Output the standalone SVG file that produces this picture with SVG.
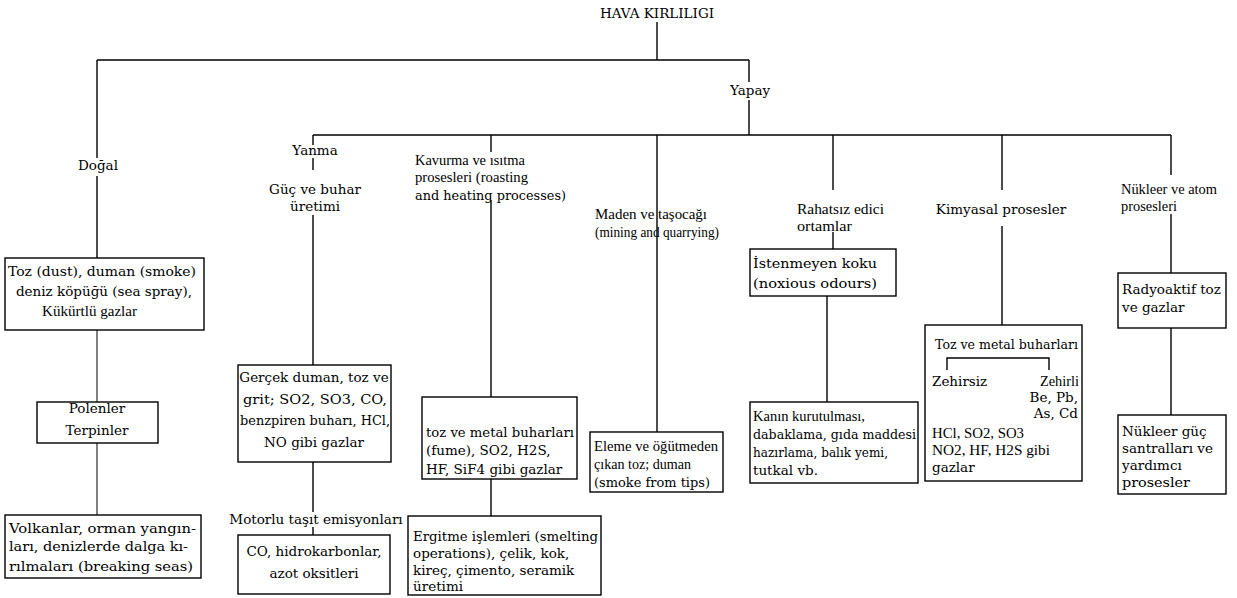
<svg xmlns="http://www.w3.org/2000/svg" width="1237" height="598" viewBox="0 0 1237 598">
<style>
text{font-family:"DejaVu Serif","Liberation Serif",serif;font-size:13.5px;fill:#000}
text.n{font-family:"Liberation Serif","DejaVu Serif",serif;font-size:15.5px}
.c{text-anchor:middle}
.box{fill:#fff;stroke:#000;stroke-width:1.4}
.ln{fill:none;stroke:#000;stroke-width:1.4}
.thin{fill:none;stroke:#000;stroke-width:1}
</style>
<rect width="1237" height="598" fill="#fff"/>
<g id="connectors">
<path class="ln" d="M657 22V60M97 60H749M97 60V158M97 176V258"/>
<path class="thin" d="M97 330V402M97 443V515"/>
<path class="ln" d="M749 60V82M749 100V135M313 135H1171"/>
<path class="ln" d="M313 135V145M313 158V170M313 215V365M313 462V512M313 527V535"/>
<path class="ln" d="M491 135V152M491 200V397M491 479V516"/>
<path class="ln" d="M657 135V432"/>
<path class="ln" d="M833 135V190M833 232V249M827 296V402"/>
<path class="ln" d="M1002 135V190M1002 226V325"/>
<path class="ln" d="M1171 135V175M1171 214V273M1171 328V415"/>
</g>
<g id="root"><text class="c" x="657" y="18">HAVA KIRLILIGI</text></g>
<g id="dogal"><text class="c" x="98" y="170">Doğal</text></g>
<g id="yapay"><text class="c" x="750" y="95">Yapay</text></g>
<g id="dogal-1">
<rect class="box" x="5" y="258" width="199" height="72"/>
<text x="8" y="276" textLength="188" lengthAdjust="spacingAndGlyphs">Toz (dust), duman (smoke)</text>
<text class="c" x="104" y="296">deniz köpüğü (sea spray),</text>
<text class="n" x="42" y="316" textLength="95" lengthAdjust="spacingAndGlyphs">Kükürtlü gazlar</text>
</g>
<g id="dogal-2">
<rect class="box" x="37" y="402" width="121" height="41"/>
<text class="c" x="97" y="413">Polenler</text>
<text class="c" x="97" y="435">Terpinler</text>
</g>
<g id="dogal-3">
<rect class="box" x="5" y="515" width="196" height="63"/>
<text x="9" y="533" textLength="187" lengthAdjust="spacingAndGlyphs">Volkanlar, orman yangın-</text>
<text x="9" y="551" textLength="179" lengthAdjust="spacingAndGlyphs">ları, denizlerde dalga kı-</text>
<text x="9" y="571" textLength="184" lengthAdjust="spacingAndGlyphs">rılmaları (breaking seas)</text>
</g>
<g id="yanma">
<text class="c" x="315" y="155">Yanma</text>
<text class="c" x="315" y="194">Güç ve buhar</text>
<text class="c" x="315" y="211">üretimi</text>
</g>
<g id="yanma-1">
<rect class="box" x="238" y="365" width="153" height="97"/>
<text class="c" x="314" y="382">Gerçek duman, toz ve</text>
<text x="243" y="404" textLength="144" lengthAdjust="spacingAndGlyphs">grit; SO2, SO3, CO,</text>
<text x="240" y="425" textLength="150" lengthAdjust="spacingAndGlyphs">benzpiren buharı, HCl,</text>
<text class="c" x="314" y="447">NO gibi gazlar</text>
</g>
<g id="motorlu"><text class="c" x="316" y="524">Motorlu taşıt emisyonları</text></g>
<g id="motorlu-1">
<rect class="box" x="238" y="535" width="152" height="59"/>
<text class="c" x="314" y="556">CO, hidrokarbonlar,</text>
<text class="c" x="314" y="578">azot oksitleri</text>
</g>
<g id="kavurma">
<text class="n" x="415" y="165" textLength="110" lengthAdjust="spacingAndGlyphs">Kavurma ve ısıtma</text>
<text class="n" x="415" y="182" textLength="113" lengthAdjust="spacingAndGlyphs">prosesleri (roasting</text>
<text x="415" y="200" textLength="151" lengthAdjust="spacingAndGlyphs">and heating processes)</text>
</g>
<g id="kavurma-1">
<rect class="box" x="422" y="397" width="155" height="82"/>
<text x="426" y="437" textLength="148" lengthAdjust="spacingAndGlyphs">toz ve metal buharları</text>
<text x="426" y="455">(fume), SO2, H2S,</text>
<text x="426" y="474">HF, SiF4 gibi gazlar</text>
</g>
<g id="kavurma-2">
<rect class="box" x="408" y="516" width="193" height="79"/>
<text x="413" y="541" textLength="185" lengthAdjust="spacingAndGlyphs">Ergitme işlemleri (smelting</text>
<text x="413" y="558">operations), çelik, kok,</text>
<text x="413" y="575">kireç, çimento, seramik</text>
<text x="413" y="591">üretimi</text>
</g>
<g id="maden">
<text class="n" x="595" y="219" textLength="112" lengthAdjust="spacingAndGlyphs">Maden ve taşocağı</text>
<text class="n" x="595" y="237" textLength="124" lengthAdjust="spacingAndGlyphs">(mining and quarrying)</text>
</g>
<g id="maden-1">
<rect class="box" x="590" y="432" width="133" height="60"/>
<text class="n" x="594" y="451" textLength="124" lengthAdjust="spacingAndGlyphs">Eleme ve öğütmeden</text>
<text class="n" x="594" y="469" textLength="97" lengthAdjust="spacingAndGlyphs">çıkan toz; duman</text>
<text x="594" y="487" textLength="116" lengthAdjust="spacingAndGlyphs">(smoke from tips)</text>
</g>
<g id="rahatsiz">
<text class="n" x="797" y="214" textLength="87" lengthAdjust="spacingAndGlyphs">Rahatsız edici</text>
<text class="n" x="797" y="231" textLength="55" lengthAdjust="spacingAndGlyphs">ortamlar</text>
</g>
<g id="rahatsiz-1">
<rect class="box" x="750" y="249" width="146" height="47"/>
<text x="753" y="268" textLength="124" lengthAdjust="spacingAndGlyphs">İstenmeyen koku</text>
<text x="753" y="288" textLength="124" lengthAdjust="spacingAndGlyphs">(noxious odours)</text>
</g>
<g id="rahatsiz-2">
<rect class="box" x="750" y="402" width="168" height="81"/>
<text class="n" x="753" y="421" textLength="112" lengthAdjust="spacingAndGlyphs">Kanın kurutulması,</text>
<text x="753" y="439" textLength="163" lengthAdjust="spacingAndGlyphs">dabaklama, gıda maddesi</text>
<text x="753" y="457" textLength="135" lengthAdjust="spacingAndGlyphs">hazırlama, balık yemi,</text>
<text x="753" y="475">tutkal vb.</text>
</g>
<g id="kimyasal"><text class="c" x="1001" y="214">Kimyasal prosesler</text></g>
<g id="kimyasal-1">
<rect class="box" x="925" y="325" width="157" height="156"/>
<text x="935" y="349" textLength="143" lengthAdjust="spacingAndGlyphs">Toz ve metal buharları</text>
<path class="ln" d="M947 370V358H1049V370"/>
<text x="932" y="386">Zehirsiz</text>
<text class="n" x="1040" y="386" textLength="39" lengthAdjust="spacingAndGlyphs">Zehirli</text>
<text x="1078" y="402" text-anchor="end">Be, Pb,</text>
<text x="1078" y="418" text-anchor="end">As, Cd</text>
<text class="n" x="932" y="438" textLength="92" lengthAdjust="spacingAndGlyphs">HCl, SO2, SO3</text>
<text class="n" x="932" y="455" textLength="118" lengthAdjust="spacingAndGlyphs">NO2, HF, H2S gibi</text>
<text x="932" y="472">gazlar</text>
</g>
<g id="nukleer">
<text class="n" x="1121" y="194" textLength="96" lengthAdjust="spacingAndGlyphs">Nükleer ve atom</text>
<text class="n" x="1121" y="211" textLength="56" lengthAdjust="spacingAndGlyphs">prosesleri</text>
</g>
<g id="nukleer-1">
<rect class="box" x="1118" y="273" width="108" height="55"/>
<text x="1122" y="294">Radyoaktif toz</text>
<text x="1122" y="312">ve gazlar</text>
</g>
<g id="nukleer-2">
<rect class="box" x="1118" y="415" width="108" height="79"/>
<text x="1122" y="436">Nükleer güç</text>
<text x="1122" y="453">santralları ve</text>
<text x="1122" y="470">yardımcı</text>
<text x="1122" y="487" textLength="68" lengthAdjust="spacingAndGlyphs">prosesler</text>
</g>
</svg>
